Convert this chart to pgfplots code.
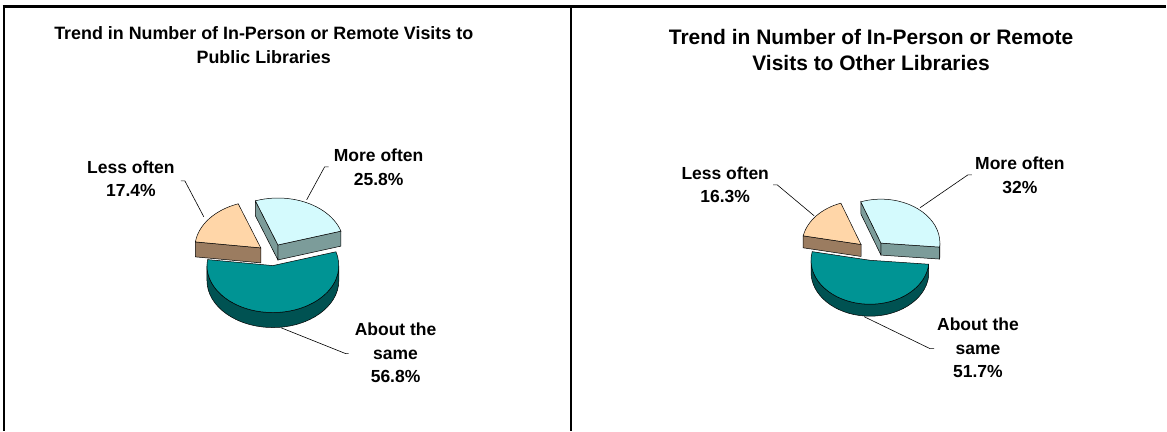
\documentclass[border=0pt]{standalone}
\usepackage{fontspec}
\setmainfont{Liberation Sans}
\usepackage{pgfplots}
\pgfplotsset{compat=1.18}
\usetikzlibrary{calc}

\definecolor{moreTop}{RGB}{212,250,253}
\definecolor{moreSide}{RGB}{124,156,154}
\definecolor{lessTop}{RGB}{255,214,168}
\definecolor{lessSide}{RGB}{155,124,96}
\definecolor{aboutTop}{RGB}{0,148,148}
\definecolor{aboutSide}{RGB}{0,82,82}

% pie parameters: cx, cy, rx, ry, depth, explode, explode y-factor
\def\setpie#1#2#3#4#5#6#7{\def\pcx{#1}\def\pcy{#2}\def\prx{#3}\def\pry{#4}\def\pd{#5}\def\pe{#6}\def\pk{#7}}
% slice: start angle, end angle (ccw), top colour, side colour, face at start (0/1), face at end (0/1)
\newcommand\slice[6]{%
  \pgfmathsetmacro\pmid{(#1+#2)/2}%
  \pgfmathsetmacro\psx{\pcx+\pe*cos(\pmid)}%
  \pgfmathsetmacro\psy{\pcy+\pe*\pk*sin(\pmid)}%
  \pgfmathsetmacro\psyd{\psy-\pd}%
  \ifnum#5=1
    \filldraw[fill=#4,draw=black,line width=0.5pt] (axis cs:\psx,\psy) -- ++(#1:\prx pt and \pry pt) -- ++(0pt,-\pd pt) -- (axis cs:\psx,\psyd) -- cycle;
  \fi
  \ifnum#6=1
    \filldraw[fill=#4,draw=black,line width=0.5pt] (axis cs:\psx,\psy) -- ++(#2:\prx pt and \pry pt) -- ++(0pt,-\pd pt) -- (axis cs:\psx,\psyd) -- cycle;
  \fi
  \pgfmathsetmacro\pws{max(#1,-180)}%
  \pgfmathsetmacro\pwe{min(#2,0)}%
  \pgfmathparse{\pws<\pwe ? 1 : 0}%
  \ifnum\pgfmathresult=1
    \filldraw[fill=#4,draw=black,line width=0.5pt] (axis cs:\psx,\psy) ++(\pws:\prx pt and \pry pt) arc[start angle=\pws,end angle=\pwe,x radius=\prx pt,y radius=\pry pt] -- ++(0pt,-\pd pt) arc[start angle=\pwe,end angle=\pws,x radius=\prx pt,y radius=\pry pt] -- cycle;
  \fi
  \filldraw[fill=#3,draw=black,line width=0.5pt] (axis cs:\psx,\psy) -- ++(#1:\prx pt and \pry pt) arc[start angle=#1,end angle=#2,x radius=\prx pt,y radius=\pry pt] -- cycle;
}

\begin{document}
\begin{tikzpicture}
% data (percent)
\def\Lmore{25.8}\def\Labout{56.8}\def\Lless{17.4}
\def\Rmore{32}\def\Rabout{51.7}\def\Rless{16.3}
\pgfmathsetmacro\LmoreA{110-3.6*\Lmore}
\pgfmathsetmacro\LaboutA{\LmoreA-3.6*\Labout}
\pgfmathsetmacro\LlessA{\LaboutA-3.6*\Lless}
\pgfmathsetmacro\RmoreA{110-3.6*\Rmore}
\pgfmathsetmacro\RaboutA{\RmoreA-3.6*\Rabout}
\pgfmathsetmacro\RlessA{\RaboutA-3.6*\Rless}
\begin{axis}[x=1pt,y=1pt,xmin=0,xmax=1167,ymin=0,ymax=431,
  scale only axis,hide axis,clip=false]
\addplot[draw=none,forget plot] coordinates {(0,0) (1167,431)};
% frame
\draw[line width=2.5pt] (axis cs:4,0) -- (axis cs:4,424.5);
\draw[line width=2.5pt] (axis cs:2.75,424.5) -- (axis cs:1167,424.5);
\draw[line width=2.5pt] (axis cs:571.5,0) -- (axis cs:571.5,424.5);
% titles
\node[align=center,font=\fontsize{17.9}{24}\selectfont\bfseries] at (axis cs:264,386) {Trend in Number of In-Person or Remote Visits to\\Public Libraries};
\node[align=center,font=\fontsize{21}{26}\selectfont\bfseries] at (axis cs:872,381) {Trend in Number of In-Person or Remote\\Visits to Other Libraries};
% left pie
\pgfplotsextra{%
  \setpie{272}{176}{66}{47}{15}{14}{0.78}%
  \slice{\LlessA}{\LaboutA}{lessTop}{lessSide}{0}{1}%
  \slice{\LmoreA}{110}{moreTop}{moreSide}{1}{1}%
  \slice{\LaboutA}{\LmoreA}{aboutTop}{aboutSide}{0}{0}%
}
% right pie
\pgfplotsextra{%
  \setpie{873}{180}{59}{44}{12}{14.6}{0.66}%
  \slice{\RlessA}{\RaboutA}{lessTop}{lessSide}{0}{1}%
  \slice{\RmoreA}{110}{moreTop}{moreSide}{1}{1}%
  \slice{\RaboutA}{\RmoreA}{aboutTop}{aboutSide}{0}{0}%
}
% leader lines
\draw[line width=0.6pt] (axis cs:181,250) -- (axis cs:185,250) -- (axis cs:204,214);
\draw[line width=0.6pt] (axis cs:329,264) -- (axis cs:325,264) -- (axis cs:307,231);
\draw[line width=0.6pt] (axis cs:349,77) -- (axis cs:346,77) -- (axis cs:281,103);
\draw[line width=0.6pt] (axis cs:774,246) -- (axis cs:778,246) -- (axis cs:815,215);
\draw[line width=0.6pt] (axis cs:973,256) -- (axis cs:969,256) -- (axis cs:921,223);
\draw[line width=0.6pt] (axis cs:935,82) -- (axis cs:931,82) -- (axis cs:865,114);
% labels
\tikzset{lab/.style={align=center,font=\fontsize{17.5}{23.5}\selectfont\bfseries}}
\node[lab] at (axis cs:131,252) {Less often\\17.4\%};
\node[lab] at (axis cs:379,263.5) {More often\\25.8\%};
\node[lab] at (axis cs:396,77.5) {About the\\same\\56.8\%};
\node[lab] at (axis cs:726,246) {Less often\\16.3\%};
\node[lab] at (axis cs:1021,255.5) {More often\\32\%};
\node[lab] at (axis cs:979,82.5) {About the\\same\\51.7\%};
\end{axis}
\end{tikzpicture}
\end{document}
